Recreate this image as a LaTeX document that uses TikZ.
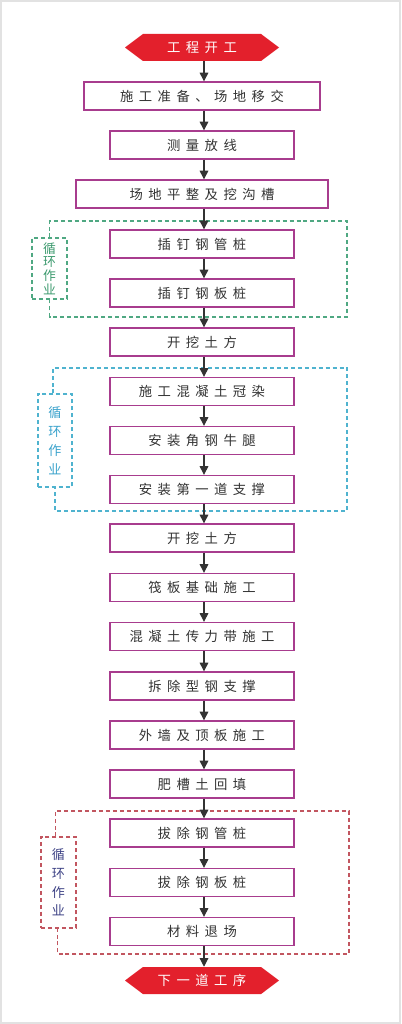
\documentclass[tikz,border=0pt]{standalone}
\usepackage{fontspec}
\newfontfamily\cjk{Noto Sans CJK SC}
\usetikzlibrary{shapes.symbols,arrows.meta}
\ExplSyntaxOn
\NewDocumentCommand\spc{m}{\seq_clear:N \l_tmpa_seq \tl_map_inline:nn {#1}{\seq_put_right:Nn \l_tmpa_seq {##1}} \seq_use:Nn \l_tmpa_seq {\hspace{4.1pt}}}
\ExplSyntaxOff
\definecolor{boxc}{HTML}{A83C8E}
\definecolor{txt}{HTML}{333333}
\definecolor{hexred}{HTML}{E3202C}
\definecolor{gdash}{HTML}{4FA882}
\definecolor{gtext}{HTML}{3C9A6E}
\definecolor{cdash}{HTML}{4FB3CF}
\definecolor{ctext}{HTML}{3BA3CC}
\definecolor{rdash}{HTML}{C25660}
\definecolor{rtext}{HTML}{3E4386}
\definecolor{arr}{HTML}{333333}
\definecolor{frame}{HTML}{E2E2E2}
\tikzset{
  stepbox/.style={draw=boxc, line width=1pt, fill=white, minimum height=21pt, minimum width=138pt, inner sep=0pt, text=txt, font=\cjk\fontsize{10}{12}\selectfont},
  hexa/.style={signal, signal to=west and east, signal pointer angle=74, fill=hexred, draw=none, minimum width=115.5pt, minimum height=20.25pt, inner sep=0pt, text=white, font=\cjk\fontsize{10}{12}\selectfont},
  loopline/.style={line width=0.8pt, dash pattern=on 3pt off 2.2pt},
  labelbox/.style={loopline, align=center, inner sep=0pt},
  flow/.style={draw=arr, line width=0.8pt, -{Triangle[length=6.5pt,width=6.5pt]}},
}
\begin{document}
\begin{tikzpicture}[x=0.75pt,y=-0.75pt]
\useasboundingbox (0,0) rectangle (401,1024);
\fill[white] (0,0) rectangle (401,1024);
\draw[frame, line width=1.2pt] (0.8,0.8) rectangle (400.2,1023.2);

% loop groups
\node[labelbox, draw=gdash, text=gtext, minimum width=26.25pt, minimum height=45.75pt, font=\cjk\fontsize{9.6}{10.2}\selectfont] (gl) at (49.5,268.5) {循\\环\\作\\业};
\draw[loopline, gdash] (gl.north) -- (gl.north |- 0,221) -- (347,221) -- (347,317) -- (gl.south |- 0,317) -- (gl.south);

\node[labelbox, draw=cdash, text=ctext, minimum width=25.5pt, minimum height=69.75pt, font=\cjk\fontsize{9.8}{14.25}\selectfont] (cl) at (55,440.5) {循\\环\\作\\业};
\draw[loopline, cdash] ([xshift=-1.5pt]cl.north) -- ([xshift=-1.5pt]cl.north |- 0,368) -- (347,368) -- (347,511) -- (cl.south |- 0,511) -- (cl.south);

\node[labelbox, draw=rdash, text=rtext, minimum width=26.25pt, minimum height=68.25pt, font=\cjk\fontsize{9.8}{14}\selectfont] (rl) at (58.5,882.5) {循\\环\\作\\业};
\draw[loopline, rdash] ([xshift=-2.5pt]rl.north) -- ([xshift=-2.5pt]rl.north |- 0,811) -- (349,811) -- (349,954) -- ([xshift=-1pt]rl.south |- 0,954) -- ([xshift=-1pt]rl.south);

% nodes
\node[hexa] (start) at (202,47.5) {\spc{工程开工}};
\node[stepbox, minimum width=177pt] (b1) at (202,96) {\spc{施工准备、场地移交}};
\node[stepbox] (b2) at (202,145) {\spc{测量放线}};
\node[stepbox, minimum width=189pt] (b3) at (202,194) {\spc{场地平整及挖沟槽}};
\node[stepbox] (b4) at (202,244) {\spc{插钉钢管桩}};
\node[stepbox] (b5) at (202,293) {\spc{插钉钢板桩}};
\node[stepbox] (b6) at (202,342) {\spc{开挖土方}};
\node[stepbox] (b7) at (202,391.5) {\spc{施工混凝土冠染}};
\node[stepbox] (b8) at (202,440.5) {\spc{安装角钢牛腿}};
\node[stepbox] (b9) at (202,489.5) {\spc{安装第一道支撑}};
\node[stepbox] (b10) at (202,538) {\spc{开挖土方}};
\node[stepbox] (b11) at (202,587.5) {\spc{筏板基础施工}};
\node[stepbox] (b12) at (202,636.5) {\spc{混凝土传力带施工}};
\node[stepbox] (b13) at (202,686) {\spc{拆除型钢支撑}};
\node[stepbox] (b14) at (202,735) {\spc{外墙及顶板施工}};
\node[stepbox] (b15) at (202,784) {\spc{肥槽土回填}};
\node[stepbox] (b16) at (202,833) {\spc{拔除钢管桩}};
\node[stepbox] (b17) at (202,882.5) {\spc{拔除钢板桩}};
\node[stepbox] (b18) at (202,931.5) {\spc{材料退场}};
\node[hexa] (end) at (202,980.5) {\spc{下一道工序}};

% arrows
\foreach \a/\b in {start/b1,b1/b2,b2/b3,b3/b4,b4/b5,b5/b6,b6/b7,b7/b8,b8/b9,b9/b10,b10/b11,b11/b12,b12/b13,b13/b14,b14/b15,b15/b16,b16/b17,b17/b18,b18/end}
  \draw[flow] ([xshift=1.5pt]\a.south) -- ([xshift=1.5pt]\b.north);
\end{tikzpicture}
\end{document}
